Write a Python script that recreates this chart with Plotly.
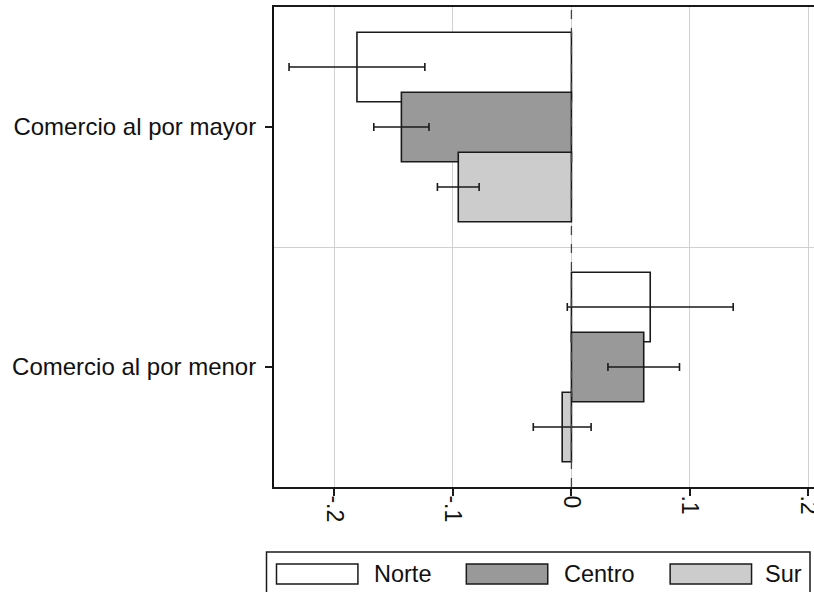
import plotly.graph_objects as go

categories = ["Comercio al por mayor", "Comercio al por menor"]
series_names = ["Norte", "Centro", "Sur"]
norte = [-0.181, 0.0665]
centro = [-0.1435, 0.061]
sur = [-0.0955, -0.0078]
norte_err = [0.0573, 0.070]
centro_err = [0.0233, 0.0302]
sur_err = [0.0176, 0.0244]
xtick_vals = [-0.2, -0.1, 0, 0.1, 0.2]
xtick_text = ["-.2", "-.1", "0", ".1", ".2"]

values = [norte, centro, sur]
errors = [norte_err, centro_err, sur_err]
fills = ["#ffffff", "#999999", "#cccccc"]
offsets = [-0.25, 0.0, 0.25]

W, H = 814, 592
PL, PT, PB = 273.5, 7, 487  # plot area edges in page pixels
ML, MR, MT = PL, 0, PT
MB = H - PB
FONT = "Liberation Sans, Arial, sans-serif"

fig = go.Figure()
for name, vals, errs, col, off in zip(series_names, values, errors, fills, offsets):
    fig.add_trace(go.Bar(
        x=vals,
        y=[i + off for i in range(len(categories))],
        orientation="h",
        width=0.29,
        name=name,
        marker=dict(color=col, line=dict(color="#1a1a1a", width=1.6)),
        error_x=dict(type="data", array=errs, visible=True, color="#1a1a1a", thickness=1.6, width=4),
        showlegend=False,
    ))

fig.add_vline(x=0, line=dict(color="#444444", width=1.3, dash="dash"))

# custom legend (pixel geometry converted to paper coords)
pw = W - ML - MR
ph = H - MT - MB
def px(x):
    return (x - ML) / pw
def py(y):
    return (H - MB - y) / ph

shapes = [dict(type="rect", xref="paper", yref="paper", x0=px(266), x1=px(810), y0=py(600), y1=py(552),
               line=dict(color="#1a1a1a", width=1.5), fillcolor="white")]
sym_x = [276, 466, 670]
txt_x = [372.5, 563, 764]
annotations = []
for name, col, sx, tx in zip(series_names, fills, sym_x, txt_x):
    shapes.append(dict(type="rect", xref="paper", yref="paper", x0=px(sx), x1=px(sx + 81.5), y0=py(584), y1=py(564),
                       line=dict(color="#1a1a1a", width=1.5), fillcolor=col))
    annotations.append(dict(xref="paper", yref="paper", x=px(tx - 1), y=py(574), text=name, showarrow=False,
                            xanchor="left", yanchor="middle", font=dict(size=23.5, color="#111111", family=FONT)))
for s in shapes:
    fig.add_shape(**s)
fig.update_layout(annotations=annotations)

fig.update_layout(
    width=W, height=H,
    margin=dict(l=ML, r=MR, t=MT, b=MB, pad=0, autoexpand=False),
    paper_bgcolor="white", plot_bgcolor="white",
    barmode="overlay",
    font=dict(family=FONT, size=23, color="#111111"),
    xaxis=dict(
        range=[-0.251, 0.2047], automargin=False,
        tickvals=xtick_vals, ticktext=xtick_text, tickangle=90,
        showgrid=True, gridcolor="#d0d0d0", gridwidth=1.3,
        zeroline=False,
        showline=True, linecolor="#1a1a1a", linewidth=1.6, mirror=True,
        ticks="outside", ticklen=7, tickcolor="#1a1a1a", tickwidth=1.5,
        tickfont=dict(size=23), ticklabelstandoff=-5, ticklabeloverflow="allow",
    ),
    yaxis=dict(
        range=[1.5, -0.5], automargin=False,
        tickvals=list(range(len(categories))), ticktext=categories,
        showgrid=False, zeroline=False,
        showline=True, linecolor="#111111", linewidth=2,
        ticks="outside", ticklen=7, tickcolor="#1a1a1a", tickwidth=1.5,
        tickfont=dict(size=24), ticklabelstandoff=4,
        minor=dict(tickmode="array", tickvals=[0.5], showgrid=True, gridcolor="#d0d0d0", gridwidth=1.3, ticks=""),
    ),
)

fig.write_html("out.html", config={"displayModeBar": False},
               post_script="document.body.style.margin='0';document.body.style.overflow='hidden';")
